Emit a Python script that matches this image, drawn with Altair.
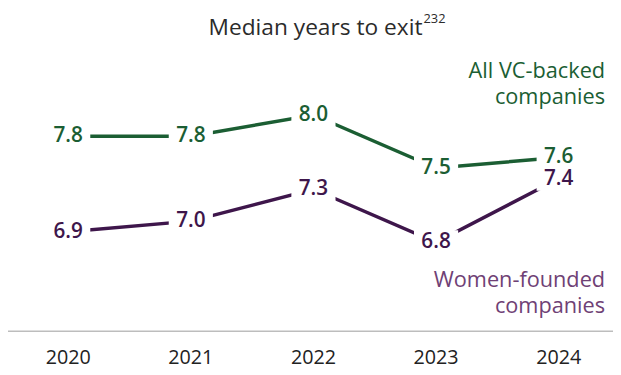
import altair as alt
import pandas as pd

years = [2020, 2021, 2022, 2023, 2024]
all_vc = [7.8, 7.8, 8.0, 7.5, 7.6]
women = [6.9, 7.0, 7.3, 6.8, 7.4]
series_names = ["All VC-backed companies", "Women-founded companies"]

GREEN = "#1b5e33"
PURPLE = "#3e164b"
PURPLE_TXT = "#6f4175"
FONT = "Open Sans"

rows = []
for y, a, w in zip(years, all_vc, women):
    rows.append({"year": y, "value": a, "series": series_names[0], "label": f"{a:.1f}"})
    rows.append({"year": y, "value": w, "series": series_names[1], "label": f"{w:.1f}"})
df = pd.DataFrame(rows)
yr = pd.DataFrame({"year": years, "label": [str(y) for y in years]})
one = pd.DataFrame({"k": [0]})

xs = alt.Scale(domain=[2019.509, 2024.443], nice=False, zero=False)
ys = alt.Scale(domain=[5.572, 8.986], nice=False, zero=False)
cs = alt.Scale(domain=series_names, range=[GREEN, PURPLE])

base = alt.Chart(df).encode(
    x=alt.X("year:Q", scale=xs, axis=None),
    y=alt.Y("value:Q", scale=ys, axis=None),
    color=alt.Color("series:N", scale=cs, legend=None),
)

lines = base.mark_line(strokeWidth=3.5).encode(detail="series:N")
boxes = base.mark_point(
    shape="M-1,-0.55L1,-0.55L1,0.55L-1,0.55Z", size=2000, filled=True, opacity=1
).encode(color=alt.value("white"))
labels = base.mark_text(font=FONT, fontSize=21, fontWeight=600).encode(text="label:N")

baseline = alt.Chart(one).mark_rule(color="#bdbdbd", strokeWidth=1.5).encode(
    x=alt.value(-1), x2=alt.value(613), y=alt.value(325)
)
year_text = alt.Chart(yr).mark_text(
    font=FONT, fontSize=20, fontWeight="normal", color="#222222"
).encode(x=alt.X("year:Q", scale=xs), y=alt.value(352), text="label:N")

title = alt.Chart(one).mark_text(
    font=FONT, fontSize=23, fontWeight="normal", color="#2b2b2b", align="right"
).encode(x=alt.value(420), y=alt.value(18), text=alt.value("Median years to exit"))
sup = alt.Chart(one).mark_text(
    font=FONT, fontSize=13, fontWeight="normal", color="#2b2b2b", align="left"
).encode(x=alt.value(421), y=alt.value(9), text=alt.value("232"))

leg_green = alt.Chart(one).mark_text(
    font=FONT, fontSize=22, fontWeight="normal", color=GREEN, align="right", lineHeight=27
).encode(x=alt.value(605), y=alt.value(61), text=alt.value(["All VC-backed", "companies"]))
leg_purple = alt.Chart(one).mark_text(
    font=FONT, fontSize=22, fontWeight="normal", color=PURPLE_TXT, align="right", lineHeight=27
).encode(x=alt.value(605), y=alt.value(273), text=alt.value(["Women-founded", "companies"]))

chart = alt.layer(
    baseline, lines, boxes, labels, year_text, title, sup, leg_green, leg_purple
).properties(
    width=613, height=367, autosize=alt.AutoSizeParams(type="none"), padding=0
).configure(background="white", view=alt.ViewConfig(stroke=None))

chart.save("out.html", embed_options={"renderer": "svg", "actions": False})
